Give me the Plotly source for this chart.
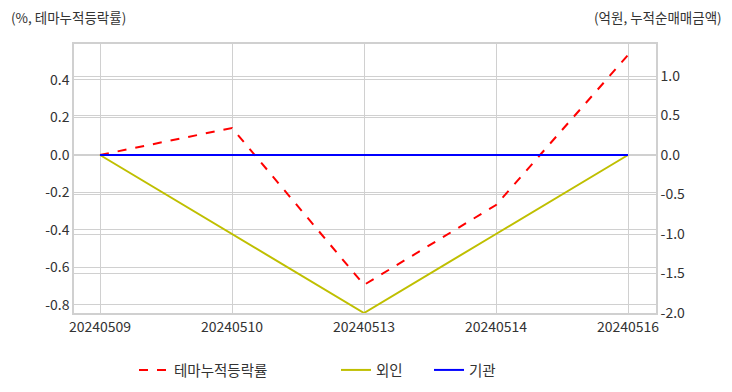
import plotly.graph_objects as go

dates = ["20240509", "20240510", "20240513", "20240514", "20240516"]
theme_pct = [0.0, 0.144, -0.693, -0.267, 0.533]
foreign = [0.0, -1.0, -2.0, -1.0, 0.0]
institution = [0.0, 0.0, 0.0, 0.0, 0.0]

left_ticks = [-0.8, -0.6, -0.4, -0.2, 0.0, 0.2, 0.4]
right_ticks = [-2.0, -1.5, -1.0, -0.5, 0.0, 0.5, 1.0]

FONT = "Noto Sans CJK KR, Liberation Sans, sans-serif"
GRID = "#d0d0d0"
TXT = "#333333"

fig = go.Figure()
fig.add_trace(go.Scatter(x=dates, y=theme_pct, name="테마누적등락률", mode="lines",
                         line=dict(color="#ff0000", width=2, dash="dash"), yaxis="y",
                         legend="legend"))
fig.add_trace(go.Scatter(x=dates, y=foreign, name="외인", mode="lines",
                         line=dict(color="#bfbf00", width=2), yaxis="y2", legend="legend2"))
fig.add_trace(go.Scatter(x=dates, y=institution, name="기관", mode="lines",
                         line=dict(color="#0000ff", width=2), yaxis="y2", legend="legend3"))

fmt = lambda v: f"{v:.1f}"

def leg(px):
    return dict(orientation="h", xref="container", yref="container",
                x=px / 732, xanchor="left", y=1 - 370 / 392, yanchor="middle",
                font=dict(size=14.5, color=TXT), bgcolor="rgba(0,0,0,0)")

fig.update_layout(
    width=732, height=392,
    margin=dict(l=74, r=76, t=44, b=79, autoexpand=False),
    paper_bgcolor="white", plot_bgcolor="white",
    font=dict(family=FONT, size=14, color=TXT),
    showlegend=True,
    legend=leg(134), legend2=leg(336), legend3=leg(429),
    xaxis=dict(type="category", range=[-0.197, 4.212], showgrid=True, gridcolor=GRID,
               showline=True, linecolor=GRID, linewidth=1.5, mirror=True,
               ticks="", tickfont=dict(size=14), zeroline=False, automargin=False),
    yaxis=dict(range=[-0.843, 0.592], tickvals=left_ticks, ticktext=[fmt(v) for v in left_ticks],
               showgrid=True, gridcolor=GRID, zeroline=False, showline=True, linecolor=GRID,
               linewidth=1.5, ticks="", tickfont=dict(size=14), automargin=False),
    yaxis2=dict(range=[-2.0, 1.405], tickvals=right_ticks, ticktext=[fmt(v) for v in right_ticks],
                overlaying="y", side="right", showgrid=True, gridcolor=GRID, zeroline=False,
                showline=True, linecolor=GRID, linewidth=1.5, ticks="", tickfont=dict(size=14),
                automargin=False),
    annotations=[
        dict(text="(%, 테마누적등락률)", xref="paper", yref="paper", x=0, xshift=-65, y=1,
             yshift=27, xanchor="left", yanchor="middle", showarrow=False,
             font=dict(size=13.5, color=TXT)),
        dict(text="(억원, 누적순매매금액)", xref="paper", yref="paper", x=1, xshift=68, y=1,
             yshift=27, xanchor="right", yanchor="middle", showarrow=False,
             font=dict(size=13.5, color=TXT)),
    ],
)

fig.write_html("out.html")
